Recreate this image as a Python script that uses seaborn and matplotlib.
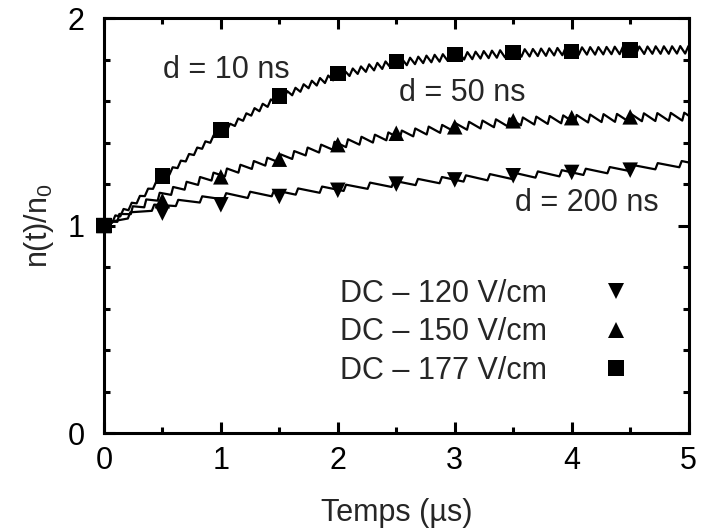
import numpy as np
import pandas as pd
import matplotlib
matplotlib.use("Agg")
import matplotlib.pyplot as plt
from matplotlib.ticker import MultipleLocator
import seaborn as sns

# --- measured points (DC fields) ---
t_meas = [0.0, 0.5, 1.0, 1.5, 2.0, 2.5, 3.0, 3.5, 4.0, 4.5]
dc_120 = [1.00, 1.06, 1.10, 1.14, 1.17, 1.20, 1.22, 1.24, 1.256, 1.267]
dc_150 = [1.00, 1.12, 1.235, 1.32, 1.39, 1.445, 1.476, 1.505, 1.52, 1.524]
dc_177 = [1.00, 1.24, 1.46, 1.625, 1.733, 1.79, 1.825, 1.835, 1.84, 1.845]
dc_labels = ["DC \u2013 120 V/cm", "DC \u2013 150 V/cm", "DC \u2013 177 V/cm"]

# --- pulsed curves: mean level at each pulse, pulse period (us), tooth height ---
period_10 = 0.07
jump_10 = 0.036
level_10 = [
    1.000, 1.031, 1.062, 1.092, 1.125, 1.160, 1.195, 1.230, 1.263, 1.295,
    1.327, 1.358, 1.388, 1.417, 1.447, 1.473, 1.498, 1.523, 1.548, 1.569,
    1.590, 1.611, 1.630, 1.646, 1.663, 1.680, 1.693, 1.705, 1.718, 1.729,
    1.739, 1.749, 1.759, 1.766, 1.773, 1.780, 1.786, 1.791, 1.796, 1.801,
    1.805, 1.808, 1.812, 1.815, 1.818, 1.820, 1.823, 1.825, 1.827, 1.828,
    1.830, 1.832, 1.833, 1.835, 1.836, 1.838, 1.839, 1.840, 1.841, 1.842,
    1.842, 1.843, 1.844, 1.844, 1.845, 1.845, 1.845, 1.846, 1.846, 1.846,
    1.847, 1.847, 1.847,
]

period_50 = 0.115
jump_50 = 0.038
level_50 = [
    1.000, 1.037, 1.074, 1.107, 1.139, 1.167, 1.192, 1.215, 1.236, 1.256,
    1.274, 1.292, 1.308, 1.324, 1.340, 1.357, 1.371, 1.385, 1.397, 1.409,
    1.419, 1.430, 1.439, 1.449, 1.458, 1.466, 1.474, 1.481, 1.487, 1.493,
    1.498, 1.502, 1.506, 1.509, 1.512, 1.514, 1.516, 1.518, 1.519, 1.521,
    1.522, 1.523, 1.524, 1.525, 1.526,
]

period_200 = 0.205
jump_200 = 0.03
level_200 = [
    1.000, 1.049, 1.086, 1.109, 1.126, 1.141, 1.148, 1.156, 1.164, 1.173,
    1.182, 1.192, 1.201, 1.210, 1.219, 1.227, 1.233, 1.240, 1.246, 1.252,
    1.259, 1.267, 1.276, 1.286, 1.296, 1.305,
]


def sawtooth(period, levels, jump, rise):
    """Vertices of a pulsed curve: fast rise at each pulse, decay until the next."""
    lv = np.asarray(levels)
    t0 = np.arange(len(lv)) * period
    x = np.column_stack([t0, t0 + rise * period]).ravel()
    y = np.column_stack([lv - jump / 2, lv + jump / 2]).ravel()
    return x, y


sns.set_style("ticks")
plt.rcParams["font.family"] = ["Liberation Sans", "DejaVu Sans"]
plt.rcParams["mathtext.default"] = "regular"
FS = 22

fig = plt.figure(figsize=(7.02, 5.32), dpi=100)
ax = fig.add_axes([0.148, 0.186, 0.833, 0.780])

# --- pulsed curves ---
frames = []
for name, (p, lv, j, r) in {
    "10": (period_10, level_10, jump_10, 0.4),
    "50": (period_50, level_50, jump_50, 0.15),
    "200": (period_200, level_200, jump_200, 0.1),
}.items():
    x, y = sawtooth(p, lv, j, r)
    frames.append(pd.DataFrame({"t": x, "n": y, "d": name}))
df_lines = pd.concat(frames, ignore_index=True)
sns.lineplot(data=df_lines, x="t", y="n", units="d", estimator=None, sort=False,
             color="black", linewidth=1.6, ax=ax, legend=False, zorder=2)

# --- DC measurements ---
df_pts = pd.DataFrame({
    "t": t_meas * 3,
    "n": dc_120 + dc_150 + dc_177,
    "serie": [dc_labels[0]] * len(t_meas) + [dc_labels[1]] * len(t_meas)
             + [dc_labels[2]] * len(t_meas),
})
sns.scatterplot(data=df_pts, x="t", y="n", style="serie", style_order=dc_labels,
                markers={dc_labels[0]: "v", dc_labels[1]: "^", dc_labels[2]: "s"},
                color="black", edgecolor="black", linewidth=0, s=125, ax=ax,
                clip_on=False, zorder=4)

handles, labels = ax.get_legend_handles_labels()
ax.legend(handles, labels, loc="upper left", bbox_to_anchor=(0.404, 0.371),
          frameon=False, markerfirst=False, handlelength=1.0, handletextpad=1.75,
          labelspacing=0.27, borderpad=0, borderaxespad=0, fontsize=FS)

ax.text(1.05, 1.75, "d = 10 ns", ha="center", va="center", fontsize=FS)
ax.text(3.06, 1.64, "d = 50 ns", ha="center", va="center", fontsize=FS)
ax.text(4.13, 1.11, "d = 200 ns", ha="center", va="center", fontsize=FS)

ax.set_xlim(0, 5)
ax.set_ylim(0, 2)
ax.xaxis.set_major_locator(MultipleLocator(1))
ax.xaxis.set_minor_locator(MultipleLocator(0.5))
ax.yaxis.set_major_locator(MultipleLocator(1))
ax.yaxis.set_minor_locator(MultipleLocator(0.2))
ax.tick_params(which="both", direction="in", top=True, right=True, width=2.2,
               colors="black", labelsize=FS)
ax.tick_params(which="major", length=8)
ax.tick_params(which="minor", length=4.5)
ax.tick_params(axis="x", pad=9)
ax.tick_params(axis="y", pad=14)
for s in ax.spines.values():
    s.set_linewidth(2.2)
    s.set_color("black")

ax.set_xlabel("Temps (\u00b5s)", fontsize=FS, labelpad=16)
ax.set_ylabel("n(t)/n$_0$", fontsize=FS, labelpad=8)

fig.savefig("out.png", dpi=100)
